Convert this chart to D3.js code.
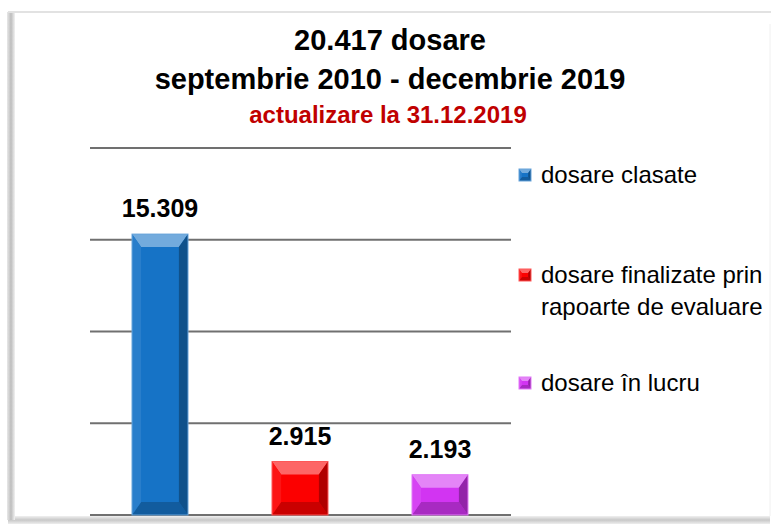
<!DOCTYPE html>
<html>
<head>
<meta charset="utf-8">
<script src="https://cdn.jsdelivr.net/npm/d3@7"></script>
<style>
  body { margin: 0; background: #fff; }
  svg { display: block; font-family: "Liberation Sans", Arial, sans-serif; }
</style>
</head>
<body>
<svg id="chart" width="771" height="524"></svg>
<script>
const categories = ["dosare clasate", "dosare finalizate prin rapoarte de evaluare", "dosare în lucru"];
const values = [15309, 2915, 2193];
const valueLabels = ["15.309", "2.915", "2.193"];
const legendLines = [["dosare clasate"], ["dosare finalizate prin", "rapoarte de evaluare"], ["dosare în lucru"]];
const colors = ["#1673c6", "#fc0000", "#d234f2"];
const gridTicks = [0, 5000, 10000, 15000, 20000];
const titleLines = ["20.417 dosare", "septembrie 2010 - decembrie 2019"];
const subtitle = "actualizare la 31.12.2019";

const svg = d3.select("#chart");
const defs = svg.append("defs");

// frame with soft shadow on left / bottom
const sh = defs.append("linearGradient").attr("id", "shL").attr("x1", 0).attr("x2", 1);
sh.append("stop").attr("offset", 0).attr("stop-color", "#e8e8e8");
sh.append("stop").attr("offset", 0.5).attr("stop-color", "#bdbdbd");
sh.append("stop").attr("offset", 1).attr("stop-color", "#f2f2f2");
const shB = defs.append("linearGradient").attr("id", "shB").attr("x1", 0).attr("x2", 0).attr("y1", 0).attr("y2", 1);
shB.append("stop").attr("offset", 0).attr("stop-color", "#f0f0f0");
shB.append("stop").attr("offset", 0.5).attr("stop-color", "#c8c8c8");
shB.append("stop").attr("offset", 1).attr("stop-color", "#eeeeee");

svg.append("rect").attr("x", 8).attr("y", 516).attr("width", 762).attr("height", 8).attr("fill", "url(#shB)");
svg.append("rect").attr("x", 7).attr("y", 12).attr("width", 8).attr("height", 508).attr("fill", "url(#shL)");
svg.append("line").attr("x1", 8).attr("x2", 771).attr("y1", 12).attr("y2", 12)
  .attr("stroke", "#e2e2e2").attr("stroke-width", 2);
svg.append("line").attr("x1", 770).attr("x2", 770).attr("y1", 24).attr("y2", 516)
  .attr("stroke", "#f0f0f0").attr("stroke-width", 1);

// titles
svg.append("text").attr("x", 390).attr("y", 50).attr("text-anchor", "middle")
  .attr("font-size", 29).attr("font-weight", "bold").text(titleLines[0]);
svg.append("text").attr("x", 390).attr("y", 89).attr("text-anchor", "middle")
  .attr("font-size", 29).attr("font-weight", "bold").text(titleLines[1]);
svg.append("text").attr("x", 388).attr("y", 123).attr("text-anchor", "middle")
  .attr("font-size", 24).attr("font-weight", "bold").attr("fill", "#c00000").text(subtitle);

// scales
const x = d3.scaleBand().domain(categories).range([90, 510]).paddingInner(0.6).paddingOuter(0.3);
const y = d3.scaleLinear().domain([0, 20000]).range([515, 148]);

// gridlines
svg.append("g").selectAll("line").data(gridTicks).join("line")
  .attr("x1", 90).attr("x2", 511)
  .attr("y1", d => y(d)).attr("y2", d => y(d))
  .attr("stroke", "#707070").attr("stroke-width", 2);

function shade(c, k) {
  return k > 0 ? d3.interpolateRgb(c, "#fff")(k) : d3.interpolateRgb(c, "#000")(-k);
}

// beveled block: top/bottom bevel deeper than the sides
function bevelBlock(g, x0, y0, w, h, c, b) {
  const bv = Math.min(b, h / 2), bh = Math.min(b * 0.7, w / 2);
  g.append("rect").attr("x", x0).attr("y", y0).attr("width", w).attr("height", h).attr("fill", c);
  const x1 = x0 + w, y1 = y0 + h;
  g.append("polygon").attr("points", [[x0, y0], [x1, y0], [x1 - bh, y0 + bv], [x0 + bh, y0 + bv]].join(" "))
    .attr("fill", shade(c, 0.4));
  g.append("polygon").attr("points", [[x0, y1], [x1, y1], [x1 - bh, y1 - bv], [x0 + bh, y1 - bv]].join(" "))
    .attr("fill", shade(c, -0.2));
  g.append("polygon").attr("points", [[x0, y0], [x0 + bh, y0 + bv], [x0 + bh, y1 - bv], [x0, y1]].join(" "))
    .attr("fill", shade(c, 0.08));
  g.append("polygon").attr("points", [[x1, y0], [x1 - bh, y0 + bv], [x1 - bh, y1 - bv], [x1, y1]].join(" "))
    .attr("fill", shade(c, -0.3));
  g.append("rect").attr("x", x0).attr("y", y0).attr("width", w).attr("height", h)
    .attr("fill", "none").attr("stroke", shade(c, 0.35)).attr("stroke-width", 1);
}

const bars = svg.append("g");
categories.forEach((cat, i) => {
  bevelBlock(bars.append("g"), x(cat), y(values[i]), x.bandwidth(), y(0) - y(values[i]), colors[i], 13);
});

// value labels
svg.append("g").selectAll("text").data(categories).join("text")
  .attr("x", d => x(d) + x.bandwidth() / 2)
  .attr("y", (d, i) => y(values[i]) - 17)
  .attr("text-anchor", "middle")
  .attr("font-size", 25).attr("font-weight", "bold")
  .text((d, i) => valueLabels[i]);

// legend
const legendY = [175, 291, 383];
const legend = svg.append("g");
legendLines.forEach((lines, i) => {
  const top = legendY[i] - (lines.length - 1) * 16;
  bevelBlock(legend.append("g"), 519, top - 6, 12, 12, colors[i], 4);
  lines.forEach((t, j) => {
    legend.append("text").attr("x", 541).attr("y", top + j * 32 + 8)
      .attr("font-size", 24).text(t);
  });
});
</script>
</body>
</html>
